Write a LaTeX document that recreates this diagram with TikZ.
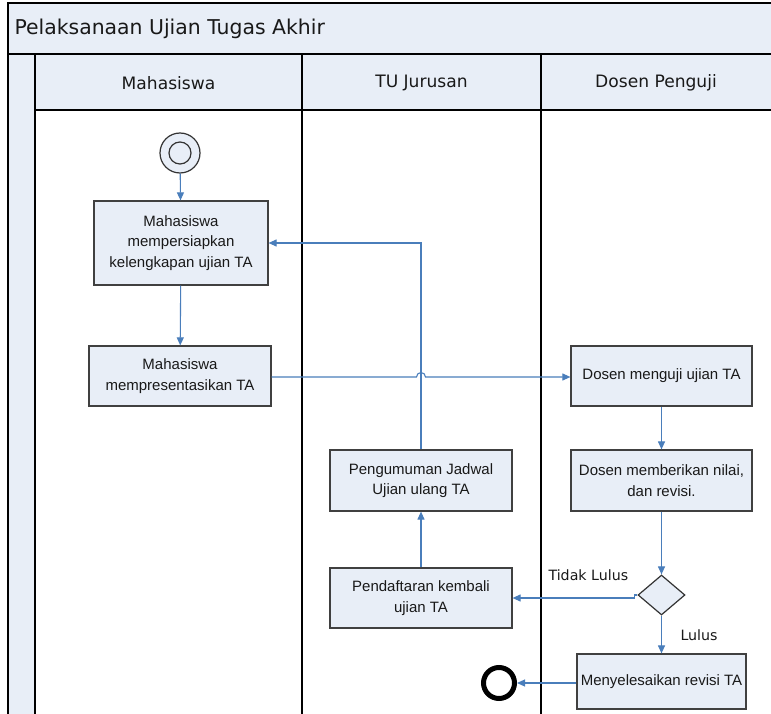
\documentclass[tikz,border=0pt]{standalone}
\usepackage{fontspec}
\setmainfont{Liberation Sans}
\newfontfamily\hdr{DejaVu Sans}
\usetikzlibrary{shapes.geometric,arrows.meta}
\definecolor{lb}{RGB}{232,238,247}
\definecolor{ab}{RGB}{74,126,187}
\definecolor{tx}{RGB}{25,25,25}
\tikzset{
  actbox/.style={draw=black!75,line width=1.2pt,fill=lb,align=center,text=tx,
     font=\fontsize{15}{20.5}\selectfont,inner sep=0pt},
  flow/.style={draw=ab,line width=1.1pt,-{Triangle[length=8pt,width=7pt]}},
  lane/.style={draw=black,line width=1.2pt},
  lbl/.style={font=\hdr\fontsize{14.2}{16}\selectfont,text=tx},
}
\begin{document}
\begin{tikzpicture}[x=1pt,y=-1pt]
\useasboundingbox (0,0) rectangle (771,714);
% pool
\fill[white] (8,3) rectangle (775,716);
\filldraw[fill=lb,lane] (8,3) rectangle (775,54);
\filldraw[fill=lb,lane] (8,54) rectangle (775,110);
\filldraw[fill=lb,lane] (8,54) rectangle (35,720);
\draw[lane] (35,110) -- (775,110);
\draw[lane] (302,54) -- (302,720);
\draw[lane] (541,54) -- (541,720);
\node[lbl,anchor=west,font=\hdr\fontsize{20.4}{22}\selectfont] (title) at (11,29) {Pelaksanaan Ujian Tugas Akhir};
\node[lbl,font=\hdr\fontsize{17.1}{19}\selectfont] (h1) at (168.5,83) {Mahasiswa};
\node[lbl,font=\hdr\fontsize{17.1}{19}\selectfont] (h2) at (421.5,83) {TU Jurusan};
\node[lbl,font=\hdr\fontsize{17.1}{19}\selectfont] (h3) at (656,83) {Dosen Penguji};
% nodes
\node[circle,draw=black!80,line width=1.2pt,fill=lb,minimum size=40pt,inner sep=0pt] (start) at (180,153) {};
\node[circle,draw=black!80,line width=1.2pt,fill=lb,minimum size=22pt,inner sep=0pt] (startin) at (180,153) {};
\node[actbox,minimum width=174pt,minimum height=84pt] (b1) at (181,243) {Mahasiswa\\mempersiapkan\\kelengkapan ujian TA};
\node[actbox,minimum width=182pt,minimum height=60pt] (b2) at (180,376) {Mahasiswa\\mempresentasikan TA};
\node[actbox,minimum width=181pt,minimum height=60pt] (b3) at (661.5,376) {Dosen menguji ujian TA};
\node[actbox,minimum width=181pt,minimum height=61pt] (b4) at (661.5,480.5) {Dosen memberikan nilai,\\dan revisi.};
\node[diamond,draw=black!80,line width=1.2pt,fill=lb,minimum width=47pt,minimum height=40pt,inner sep=0pt,aspect=1.17] (d) at (661.5,595) {};
\node[actbox,minimum width=169pt,minimum height=55pt] (b5) at (661.5,681.5) {Menyelesaikan revisi TA};
\node[circle,draw=black,line width=5pt,fill=white,minimum size=31pt,inner sep=0pt] (end) at (499,683) {};
\node[actbox,minimum width=182pt,minimum height=61pt] (b6) at (421,480.5) {Pengumuman Jadwal\\Ujian ulang TA};
\node[actbox,minimum width=182pt,minimum height=60pt] (b7) at (421,598) {Pendaftaran kembali\\ujian TA};
\coordinate (hop) at (421,377);
% connectors
\draw[flow] (start) -- (b1);
\draw[flow] (b1) -- (b2);
\draw[flow] (b6.north) |- (b1.east);
\draw[flow] (b2.east |- hop) -- ([xshift=-4.5pt]hop) arc[start angle=180,end angle=0,radius=4.5pt] -- (b3.west |- hop);
\draw[flow] (b3) -- (b4);
\draw[flow] (b4) -- (d);
\draw[flow] (d.west) -- ++(-3,0) |- (b7.east);
\draw[flow] (d) -- (b5);
\draw[flow] (b5.west |- end) -- (end);
\draw[flow] (b7) -- (b6);
\node[lbl,anchor=west] (tl) at (545,575) {Tidak Lulus};
\node[lbl,anchor=west] (ll) at (677,635) {Lulus};
\end{tikzpicture}
\end{document}
